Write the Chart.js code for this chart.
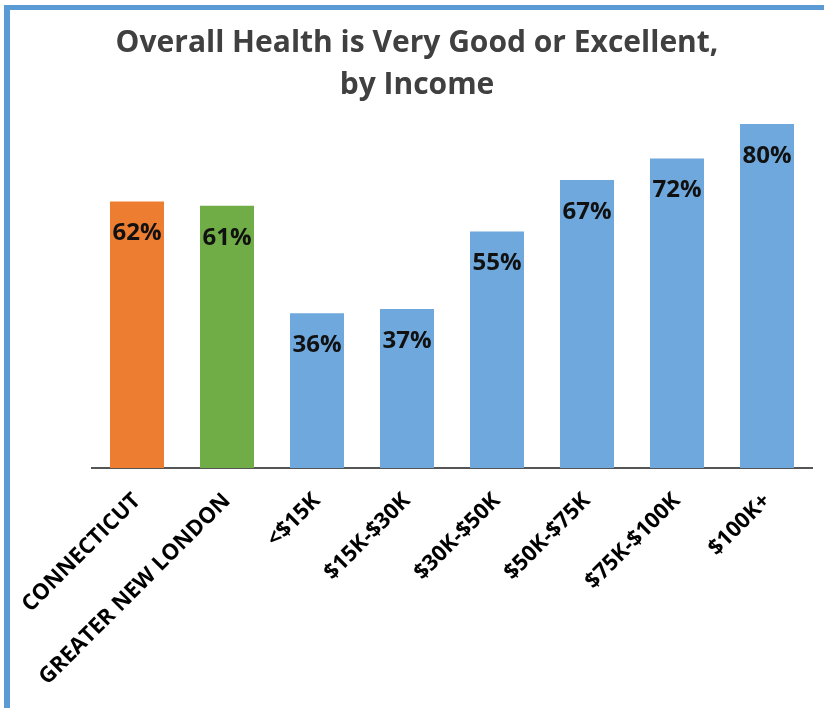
<!DOCTYPE html>
<html>
<head>
<meta charset="utf-8">
<script src="https://cdn.jsdelivr.net/npm/chart.js@4"></script>
<style>
  body { margin: 0; background: #fff; }
  #frame {
    position: absolute; left: 4px; top: 5px; width: 820px; height: 703px;
    border-left: 6px solid #5B9BD5; border-top: 5px solid #5B9BD5;
    box-sizing: border-box;
  }
  #wrap { position: absolute; left: 0; top: 0; width: 824px; height: 708px; }
</style>
</head>
<body>
<div id="frame"></div>
<div id="wrap"><canvas id="healthChart"></canvas></div>
<script>
  const groups = ['CONNECTICUT', 'GREATER NEW LONDON', '<$15K', '$15K-$30K', '$30K-$50K', '$50K-$75K', '$75K-$100K', '$100K+'];
  const percents = [62, 61, 36, 37, 55, 67, 72, 80];
  const barColors = ['#ED7D31', '#70AD47', '#6FA8DC', '#6FA8DC', '#6FA8DC', '#6FA8DC', '#6FA8DC', '#6FA8DC'];

  // 棒の中にラベルを書く
  const insideLabels = {
    id: 'insideLabels',
    afterDatasetsDraw(chart) {
      const ctx = chart.ctx;
      const meta = chart.getDatasetMeta(0);
      ctx.save();
      ctx.font = 'bold 24px "Open Sans"';
      ctx.fillStyle = '#111';
      ctx.textAlign = 'center';
      ctx.textBaseline = 'middle';
      meta.data.forEach((bar, i) => {
        ctx.fillText(percents[i] + '%', bar.x, bar.y + 32);
      });
      ctx.restore();
    }
  };

  const health = document.getElementById('healthChart').getContext('2d');
  const healthChart = new Chart(health, {
    type: 'bar',
    data: {
      labels: groups,
      datasets: [{
        data: percents,
        backgroundColor: barColors,
        barPercentage: 0.6,
        categoryPercentage: 1
      }]
    },
    options: {
      responsive: true,
      maintainAspectRatio: false,
      animation: false,
      layout: { padding: { left: 22, right: 12, top: 0, bottom: 0 } },
      plugins: {
        legend: { display: false },
        tooltip: { enabled: false },
        title: {
          display: true,
          text: ['Overall Health is Very Good or Excellent,', 'by Income'],
          color: '#404040',
          font: { family: 'Open Sans', size: 30, weight: 'bold', lineHeight: 1.4 },
          padding: { top: 22, bottom: 18 }
        }
      },
      scales: {
        x: {
          grid: { display: false },
          border: { display: true, color: '#555', width: 2 },
          ticks: {
            color: '#000',
            font: { family: 'Open Sans', size: 22, weight: 'bold' },
            minRotation: 45,
            maxRotation: 45,
            padding: 12,
            autoSkip: false
          },
          afterFit(scale) {
            scale.height = 240;
            scale.paddingLeft = 0;
            scale.paddingRight = 0;
          }
        },
        y: {
          display: true,
          min: 0,
          max: 80,
          grid: { display: false },
          border: { display: false },
          ticks: { display: false },
          afterFit(scale) {
            scale.width = 70;
          }
        }
      }
    },
    plugins: [insideLabels]
  });
</script>
</body>
</html>
